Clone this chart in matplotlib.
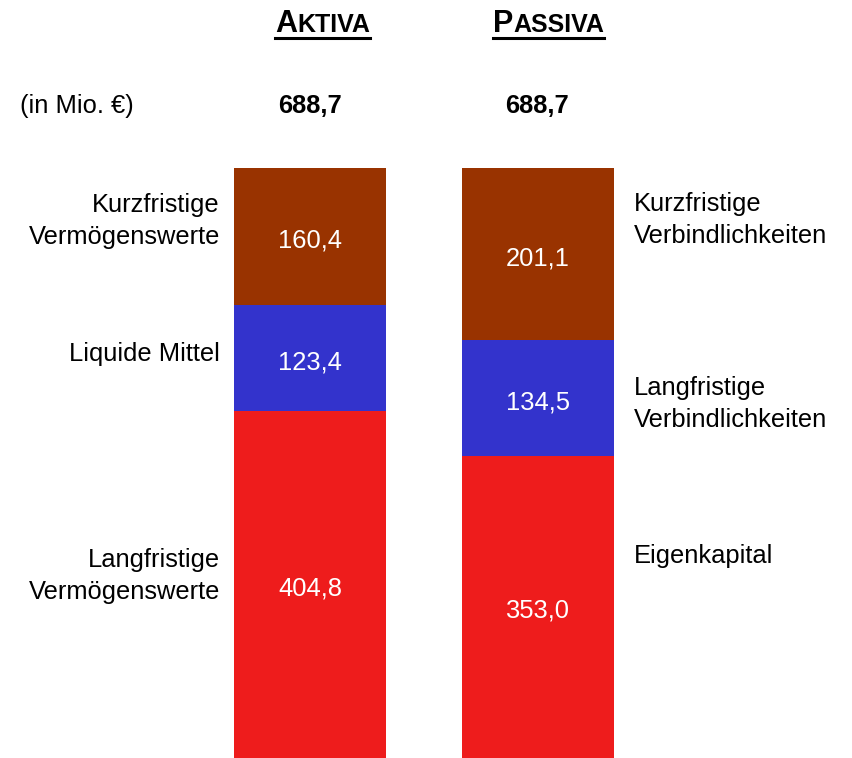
import matplotlib
matplotlib.use("Agg")
import matplotlib.pyplot as plt
from matplotlib.lines import Line2D

plt.rcParams['font.family'] = ['Liberation Sans', 'DejaVu Sans']

# balance sheet data (in Mio. EUR), stacked from the bottom up
aktiva_labels = ["Langfristige\nVermögenswerte", "Liquide Mittel", "Kurzfristige\nVermögenswerte"]
aktiva_values = [404.8, 123.4, 160.4]
passiva_labels = ["Eigenkapital", "Langfristige\nVerbindlichkeiten", "Kurzfristige\nVerbindlichkeiten"]
passiva_values = [353.0, 134.5, 201.1]
colors = ["#ee1c1c", "#3333cc", "#993300"]
total_text = "688,7"

W, H = 852, 758
FS = 18.4
fig = plt.figure(figsize=(W / 100, H / 100), dpi=100)
ax = fig.add_axes([0, 0, 1, 1])
ax.axis("off")
total = sum(aktiva_values)
ax.set_xlim(0, W)
ax.set_ylim(0, total * H / 590)  # stack height is 590 px


def fx(x):
    return x / W


def fy(y):
    return 1 - y / H


def fmt(v):
    return f"{v:.1f}".replace(".", ",")


bar_w = 152
for xc, values in [(310, aktiva_values), (537.5, passiva_values)]:
    bottom = 0
    for v, c in zip(values, colors):
        ax.bar(xc, v, bottom=bottom, width=bar_w, color=c, linewidth=0)
        ax.annotate(fmt(v), (xc, bottom + v / 2), xytext=(0, -3),
                    textcoords="offset points", color="white", fontsize=FS,
                    ha="center", va="center")
        bottom += v

# category labels
left_y = [576, 354, 221]
for lab, y in zip(aktiva_labels, left_y):
    fig.text(fx(220), fy(y), lab, ha="right", va="center", fontsize=FS,
             multialignment="right", linespacing=1.45)
right_y = [556, 404, 220]
for lab, y in zip(passiva_labels, right_y):
    fig.text(fx(634), fy(y), lab, ha="left", va="center", fontsize=FS,
             multialignment="left", linespacing=1.45)

# header row
fig.text(fx(20), fy(113), "(in Mio. €)", fontsize=FS, va="baseline")
for xc in [310, 537.5]:
    fig.text(fx(xc), fy(113), total_text, fontsize=FS, weight="bold",
             ha="center", va="baseline")

# small caps titles with underline
fig.canvas.draw()
renderer = fig.canvas.get_renderer()
for x0, first, rest in [(275, "A", "KTIVA"), (493, "P", "ASSIVA")]:
    t1 = fig.text(fx(x0), fy(32), first, fontsize=22, weight="bold", va="baseline")
    bb1 = t1.get_window_extent(renderer)
    t2 = fig.text(bb1.x1 / W, fy(32), rest, fontsize=18, weight="bold", va="baseline")
    bb2 = t2.get_window_extent(renderer)
    fig.add_artist(Line2D([bb1.x0 / W, bb2.x1 / W], [fy(37.5), fy(37.5)],
                          transform=fig.transFigure, color="black", linewidth=2.2))

fig.savefig("out.png", dpi=100)
